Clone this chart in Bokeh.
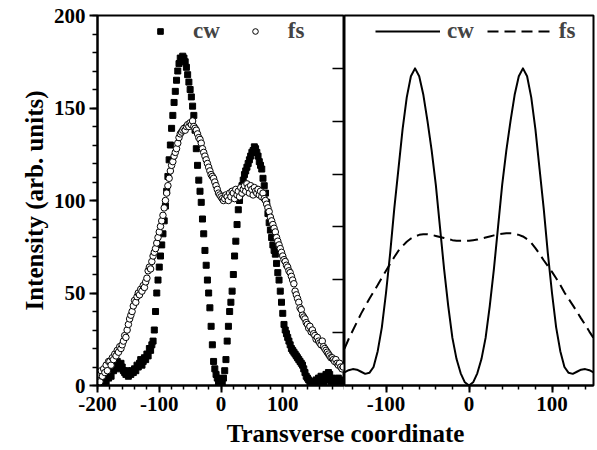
from bokeh.plotting import figure
from bokeh.layouts import column, row
from bokeh.models import Range1d, LinearAxis, FixedTicker, Legend, LegendItem, Label
from bokeh.embed import file_html
from bokeh.resources import INLINE
from bokeh.core.validation import silence
from bokeh.core.validation.warnings import MISSING_RENDERERS

silence(MISSING_RENDERERS, True)

FONT = "Liberation Serif"

# ---------------- data: left panel (measured) ----------------
x_left = list(range(-200, 200, 2))
cw_left = [
    2, 0, 4, 1, 3, 0, 5, 2, 6, 4,
    7, 5, 9, 8, 12, 10, 13, 11, 9, 12,
    10, 8, 7, 6, 8, 5, 7, 6, 8, 7,
    9, 8, 11, 10, 12, 14, 11, 13, 15, 14,
    17, 16, 20, 19, 22, 24, 30, 40, 50, 57,
    64, 70, 76, 82, 89, 97, 105, 113, 122, 130,
    139, 146, 153, 159, 165, 170, 174, 177, 176, 178,
    177, 175, 172, 168, 164, 160, 156, 151, 146, 138,
    128, 119, 111, 105, 99, 90, 82, 73, 65, 57,
    50, 42, 32, 22, 13, 9, 6, 4, 2, 0,
    0, 1, 4, 8, 14, 24, 32, 40, 45, 51,
    60, 70, 78, 87, 95, 100, 104, 108, 111, 114,
    116, 118, 120, 122, 124, 126, 127, 129, 128, 126,
    124, 121, 119, 117, 112, 108, 104, 99, 93, 88,
    84, 80, 76, 73, 71, 66, 61, 57, 51, 45,
    39, 33, 30, 28, 26, 24, 22, 20, 19, 18,
    17, 16, 15, 14, 13, 12, 11, 9, 7, 5,
    4, 3, 2, 1, 0, 2, 0, 3, 1, 4,
    2, 5, 3, 1, 4, 6, 3, 7, 6, 2,
    4, 1, 3, 0, 2, 4, 1, 3, 0, 2,
]
fs_left = [
    3, 6, 2, 8, 5, 9, 7, 11, 8, 13,
    13, 11, 15, 14, 17, 16, 19, 18, 21, 20,
    22, 24, 27, 26, 30, 33, 36, 38, 40, 43,
    46, 45, 48, 50, 49, 52, 51, 54, 53, 56,
    58, 62, 64, 63, 67, 70, 72, 74, 77, 80,
    83, 86, 89, 92, 96, 100, 104, 108, 112, 116,
    119, 121, 124, 126, 128, 131, 134, 136, 137, 138,
    139, 138, 140, 141, 140, 142, 141, 143, 140, 139,
    138, 136, 134, 133, 131, 128, 126, 124, 122, 120,
    118, 116, 114, 113, 112, 110, 108, 106, 104, 103,
    102, 101, 100, 101, 103, 102, 100, 104, 102, 105,
    104, 101, 106, 103, 105, 102, 107, 104, 106, 108,
    105, 109, 107, 104, 108, 106, 103, 107, 105, 104,
    106, 103, 105, 102, 104, 101, 100, 98, 96, 94,
    91, 89, 87, 85, 83, 80, 78, 76, 74, 72,
    70, 68, 67, 65, 64, 62, 61, 59, 57, 55,
    51, 49, 47, 45, 42, 41, 38, 37, 36, 34,
    33, 31, 32, 29, 30, 28, 27, 25, 26, 24,
    23, 22, 24, 21, 20, 19, 18, 17, 16, 15,
    15, 14, 13, 14, 12, 11, 12, 10, 9, 10,
]

# ---------------- data: right panel (calculated curves) ----------------
x_right = list(range(-150, 151, 5))
cw_right = [
    0.25, 0.29, 0.31, 0.30, 0.26, 0.22, 0.24, 0.35, 0.65, 1.10,
    1.75, 2.50, 3.35, 4.10, 4.85, 5.45, 5.85, 6.00, 5.85, 5.50,
    5.00, 4.45, 3.80, 3.00, 2.20, 1.50, 0.90, 0.50, 0.23, 0.06,
    0.00,
    0.06, 0.23, 0.50, 0.90, 1.50, 2.20, 3.00, 3.80, 4.45, 5.00,
    5.50, 5.85, 6.00, 5.85, 5.45, 4.85, 4.10, 3.35, 2.50, 1.75,
    1.10, 0.65, 0.35, 0.24, 0.22, 0.26, 0.30, 0.31, 0.29, 0.25,
]
fs_right = [
    0.70, 0.88, 1.04, 1.20, 1.36, 1.50, 1.64, 1.77, 1.90, 2.04,
    2.17, 2.30, 2.43, 2.55, 2.64, 2.72, 2.78, 2.82, 2.85, 2.86,
    2.86, 2.85, 2.83, 2.81, 2.79, 2.77, 2.75, 2.74, 2.74, 2.74,
    2.74,
    2.75, 2.76, 2.78, 2.80, 2.82, 2.84, 2.86, 2.87, 2.88, 2.88,
    2.87, 2.85, 2.82, 2.77, 2.70, 2.60, 2.49, 2.37, 2.26, 2.15,
    2.03, 1.90, 1.76, 1.64, 1.52, 1.40, 1.27, 1.15, 1.02, 0.90,
]

left_xticks = [-200, -100, 0, 100]
left_xlabels = ["-200", "-100", "0", "100"]
left_yticks = [0, 50, 100, 150, 200]
right_xticks = [-100, 0, 100]
right_xlabels = ["-100", "0", "100"]
right_yticks = [1, 2, 3, 4, 5, 6]


def style_axis(ax):
    ax.axis_line_width = 2
    ax.axis_line_color = "black"
    ax.major_tick_line_width = 2
    ax.minor_tick_line_width = 1.5
    ax.major_tick_line_color = "black"
    ax.minor_tick_line_color = "black"
    ax.major_label_text_font = FONT
    ax.major_label_text_font_style = "bold"
    ax.major_label_text_font_size = "21px"
    ax.major_label_text_color = "black"
    ax.axis_label_text_font = FONT
    ax.axis_label_text_font_style = "bold"
    ax.axis_label_text_font_size = "25px"
    ax.axis_label_text_color = "black"


# ---------------- left panel ----------------
p1 = figure(width=344, height=418, x_range=Range1d(-200, 200), y_range=Range1d(0, 200),
            output_backend="svg", toolbar_location=None,
            min_border_left=97, min_border_right=0, min_border_top=15, min_border_bottom=33)
p1.grid.visible = False
p1.outline_line_color = "black"
p1.outline_line_width = 2

xa = p1.xaxis[0]
style_axis(xa)
xa.ticker = FixedTicker(ticks=left_xticks, minor_ticks=list(range(-200, 201, 20)))
xa.major_label_overrides = {t: s for t, s in zip(left_xticks, left_xlabels)}
xa.major_tick_out = 7
xa.major_tick_in = 0
xa.minor_tick_out = 4
xa.minor_tick_in = 0
xa.major_label_standoff = 4

ya = p1.yaxis[0]
style_axis(ya)
ya.ticker = FixedTicker(ticks=left_yticks, minor_ticks=list(range(0, 201, 10)))
ya.major_tick_out = 8
ya.major_tick_in = 0
ya.minor_tick_out = 5
ya.minor_tick_in = 0
ya.major_label_standoff = 4
ya.axis_label = "Intensity (arb. units)"
ya.axis_label_standoff = 3

# divider axis belonging to the right panel (ticks pointing left, no labels)
p1.extra_y_ranges = {"r": Range1d(0, 7)}
ra = LinearAxis(y_range_name="r", ticker=FixedTicker(ticks=right_yticks))
style_axis(ra)
ra.major_tick_in = 12
ra.major_tick_out = 0
ra.minor_tick_in = 0
ra.minor_tick_out = 0
ra.major_tick_line_width = 1.5
ra.major_label_standoff = 0
ra.major_label_text_font_size = "0px"
ra.major_label_overrides = {t: "" for t in right_yticks}
p1.add_layout(ra, "right")

r_sq = p1.scatter(x_left, cw_left, marker="square", size=6, fill_color="black", line_color="black")
r_ci = p1.scatter(x_left, fs_left, marker="circle", size=6.5, fill_color="white",
                  line_color="black", line_width=1)

leg1 = Legend(items=[LegendItem(label="cw", renderers=[r_sq]),
                     LegendItem(label="fs", renderers=[r_ci])],
              orientation="horizontal", location=(53, 341),
              glyph_width=20, glyph_height=14, label_standoff=23, spacing=25,
              padding=0, margin=0, border_line_color=None, background_fill_alpha=0,
              label_text_font=FONT, label_text_font_style="bold", label_text_font_size="23px")
p1.add_layout(leg1)

# ---------------- right panel ----------------
p2 = figure(width=253, height=418, x_range=Range1d(-150, 150), y_range=Range1d(0, 7),
            output_backend="svg", toolbar_location=None, y_axis_type=None,
            min_border_left=0, min_border_right=4, min_border_top=15, min_border_bottom=33)
p2.grid.visible = False
p2.outline_line_color = "black"
p2.outline_line_width = 2

xb = p2.xaxis[0]
style_axis(xb)
xb.ticker = FixedTicker(ticks=right_xticks, minor_ticks=list(range(-140, 141, 20)))
xb.major_label_overrides = {t: s for t, s in zip(right_xticks, right_xlabels)}
xb.major_tick_out = 7
xb.major_tick_in = 0
xb.minor_tick_out = 4
xb.minor_tick_in = 0
xb.major_label_standoff = 4

r_cw = p2.line(x_right, cw_right, line_width=2, line_color="black", line_join="round")
r_fs = p2.line(x_right, fs_right, line_width=2, line_color="black", line_dash="11 6")

leg2 = Legend(items=[LegendItem(label="cw", renderers=[r_cw]),
                     LegendItem(label="fs", renderers=[r_fs])],
              orientation="horizontal", location=(31, 341),
              glyph_width=65, glyph_height=14, label_standoff=7, spacing=13,
              padding=0, margin=0, border_line_color=None, background_fill_alpha=0,
              label_text_font=FONT, label_text_font_style="bold", label_text_font_size="23px")
p2.add_layout(leg2)

# ---------------- shared x-axis title ----------------
p3 = figure(width=597, height=32, x_axis_type=None, y_axis_type=None,
            output_backend="svg", toolbar_location=None, min_border=0)
p3.outline_line_color = None
p3.grid.visible = False
p3.add_layout(Label(x=345, y=17, x_units="screen", y_units="screen",
                    text="Transverse coordinate", text_align="center",
                    text_baseline="alphabetic", text_font=FONT,
                    text_font_style="bold", text_font_size="25px", text_color="black"))

layout = column(row(p1, p2, spacing=0), p3, spacing=0)

open("out.html", "w").write(file_html(layout, INLINE))
